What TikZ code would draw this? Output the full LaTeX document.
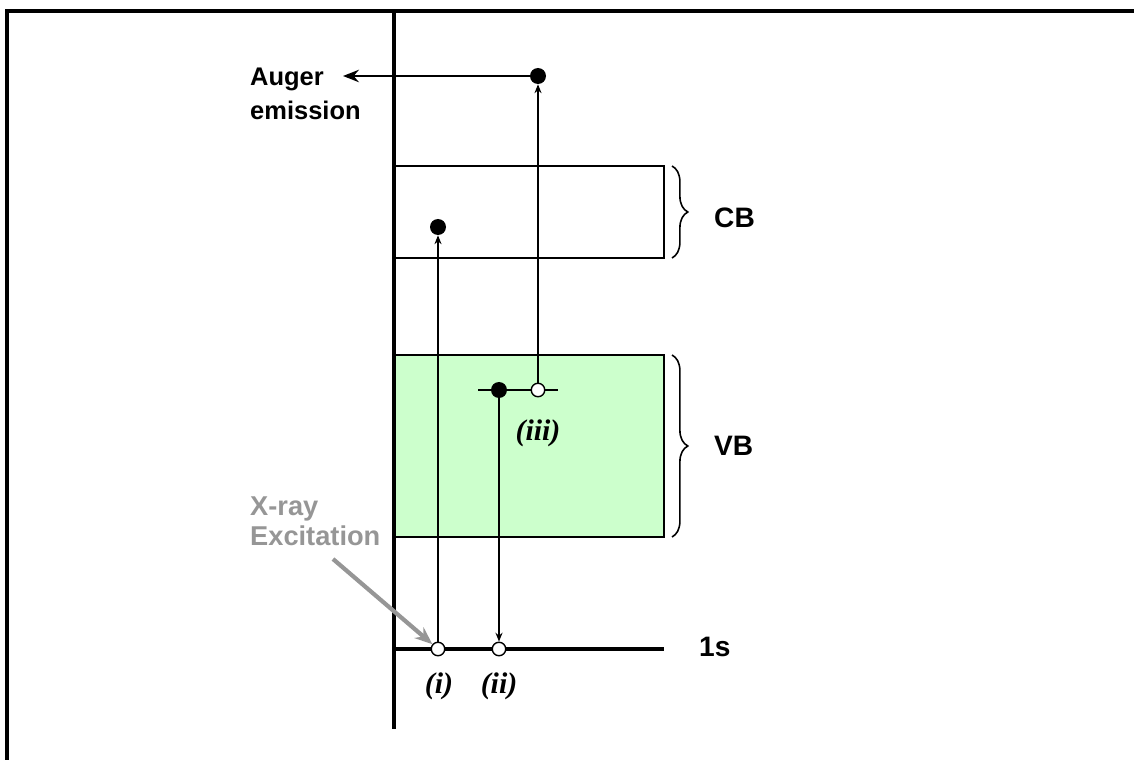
\documentclass[tikz,border=0pt]{standalone}
\usepackage{fontspec}
\setmainfont{Liberation Sans}
\newfontfamily\serifbi{Liberation Serif}
\usepackage{tikz}
\usetikzlibrary{arrows.meta,positioning,calc,decorations.pathreplacing}
\usepackage{xcolor}
\definecolor{vbgreen}{RGB}{204,255,204}
\definecolor{xgray}{RGB}{150,150,150}

\begin{document}
\begin{tikzpicture}[x=0.02cm, y=-0.02cm,
    elec/.style={circle, fill=black, inner sep=0pt, minimum size=0.32cm},
    hole/.style={circle, draw, fill=white, line width=0.8pt, inner sep=0pt, minimum size=0.27cm},
    band/.style={draw, line width=1.1pt},
    lbl/.style={font=\fontsize{14.5}{19}\selectfont\bfseries},
    big/.style={font=\fontsize{16}{19}\selectfont\bfseries},
    case/.style={font=\serifbi\fontsize{17}{19}\selectfont\bfseries\itshape},
    trans/.style={->, line width=0.9pt, >={Stealth[length=5pt,width=4pt]}},
    brc/.style={decorate, decoration={brace, amplitude=9pt}, line width=0.9pt}
]
    \useasboundingbox (0,0) rectangle (1134,760);

    % Frame
    \draw[line width=2.2pt] (7,760) -- (7,11) -- (1134,11);

    % Bands
    \draw[band] (394,166) rectangle (664,258);
    \draw[band, fill=vbgreen] (394,355) rectangle (664,537);
    \draw[brc] (672,166) -- (672,258);
    \draw[brc] (672,355) -- (672,537);
    \node[big, anchor=west] (cb) at (708,218) {CB};
    \node[big, anchor=west] (vb) at (708,446) {VB};

    % Energy axis
    \draw[line width=2.2pt] (394,11) -- (394,729);

    % Core level and valence level
    \coordinate (coreL) at (394,649);
    \coordinate (coreR) at (664,649);
    \draw[line width=1.8pt] (coreL) -- (coreR);
    \node[big, anchor=west] (core) at (693,647) {1s};
    \coordinate (lvlL) at (478,390);
    \coordinate (lvlR) at (558,390);
    \draw[line width=0.9pt] (lvlL) -- (lvlR);

    % Electrons and holes
    \node[elec] (e1) at (438,227) {};
    \node[elec] (e2) at (499,390) {};
    \node[elec] (e3) at (538,76) {};
    \node[hole] (h1) at (438,649) {};
    \node[hole] (h2) at (499,649) {};
    \node[hole] (h3) at (538,390) {};

    % Transitions
    \draw[trans] (h1) -- (e1);
    \draw[trans] (e2) -- (h2);
    \draw[trans] (h3) -- (e3);

    \node[case] (c1) at (439,686) {(i)};
    \node[case] (c2) at (499,686) {(ii)};
    \node[case] (c3) at (538,433) {(iii)};

    % Auger emission
    \coordinate (out) at (343,76);
    \draw[->, line width=1.6pt, >={Stealth[length=9pt,width=7pt]}] (e3) -- (out);
    \node[lbl, anchor=west, align=left] (auger) at (244,94) {Auger\\emission};

    % X-ray excitation
    \node[lbl, anchor=west, align=left, text=xgray, font=\fontsize{15.5}{17}\selectfont\bfseries] (xray) at (244,521) {X-ray\\Excitation};
    \coordinate (xs) at (333,559);
    \draw[->, xgray, line width=2.4pt, >={Stealth[length=10pt,width=8pt]}] (xs) -- (h1);
\end{tikzpicture}
\end{document}
